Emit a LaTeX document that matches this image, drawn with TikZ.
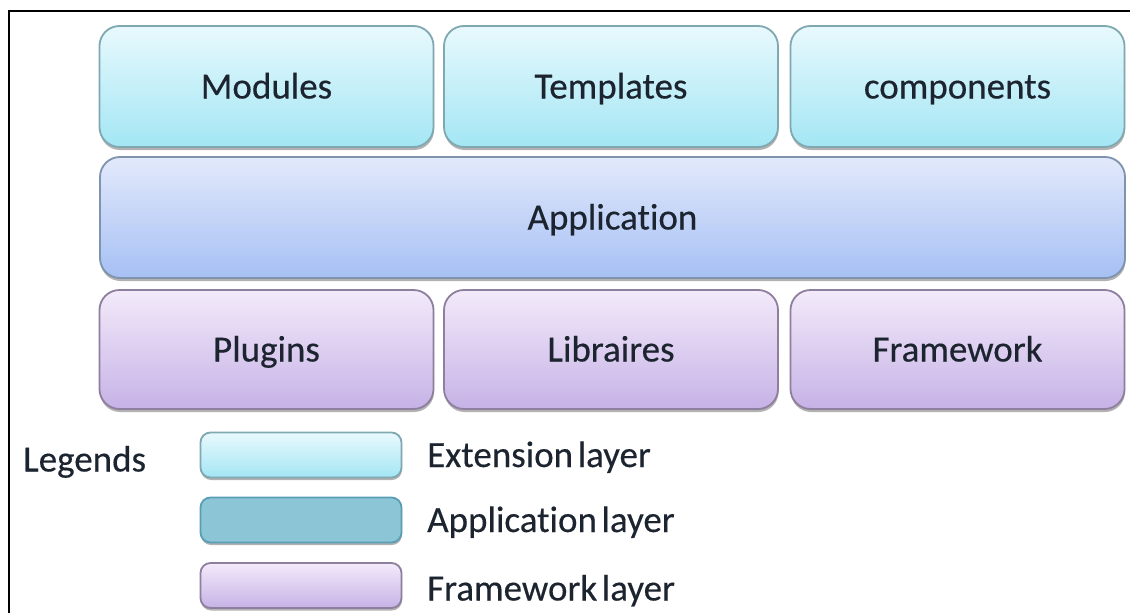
\documentclass[tikz,border=0pt]{standalone}
\usepackage{fontspec}
\setmainfont{Carlito}[FakeBold=0.4, Ligatures=NoCommon]
\newfontfamily\labfont{Carlito}[FakeBold=0.35, Ligatures=NoCommon]
\newfontfamily\legfont{Carlito}[FakeBold=0.3, WordSpace=0.55, Ligatures=NoCommon]
\usetikzlibrary{shadows}
\definecolor{txt}{HTML}{1C2430}
\definecolor{extTop}{HTML}{E8F9FD}
\definecolor{extBot}{HTML}{A3E6F4}
\definecolor{extLine}{HTML}{7FA8B0}
\definecolor{appTop}{HTML}{E2E9FB}
\definecolor{appBot}{HTML}{A6C0F4}
\definecolor{appLine}{HTML}{7F93AE}
\definecolor{fwTop}{HTML}{F3EAFA}
\definecolor{fwBot}{HTML}{C6B2E6}
\definecolor{fwLine}{HTML}{8E7F9E}
\definecolor{legApp}{HTML}{8CC6D6}
\definecolor{legAppLine}{HTML}{5A9EB6}
\tikzset{
  layerbox/.style={rectangle, rounded corners=20pt, line width=1.8pt,
    minimum height=121pt, inner sep=0pt, text=txt,
    text height=24pt, text depth=0pt,
    font=\labfont\fontsize{37}{44}\selectfont,
    drop shadow={shadow xshift=0.5pt, shadow yshift=-3pt, opacity=0.3, fill=black}},
  extbox/.style={layerbox, draw=extLine, top color=extTop, bottom color=extBot, minimum width=334pt},
  appbox/.style={layerbox, draw=appLine, top color=appTop, bottom color=appBot, minimum width=1025pt},
  fwbox/.style={layerbox, draw=fwLine, top color=fwTop, bottom color=fwBot, minimum width=334pt, minimum height=119pt},
  legbox/.style={rectangle, rounded corners=10pt, line width=1.8pt,
    minimum width=201pt, minimum height=45pt, inner sep=0pt,
    drop shadow={shadow xshift=0.5pt, shadow yshift=-2.5pt, opacity=0.3, fill=black}},
  legtext/.style={anchor=west, inner sep=0pt, text=txt, text height=24pt, text depth=0pt,
    font=\legfont\fontsize{37}{44}\selectfont}
}
\begin{document}
\begin{tikzpicture}[x=1pt, y=-1pt]
\useasboundingbox (0,0) rectangle (1130,613);
\fill[white] (0,0) rectangle (1130,613);
% frame
\draw[line width=2.5pt, black] (9,613) -- (9,11) -- (1130,11);
% extension layer
\node[extbox] (modules) at (266.5,86.5) {Modules};
\node[extbox] (templates) at (611,86.5) {Templates};
\node[extbox] (components) at (957.5,86.5) {components};
% application layer
\node[appbox] (application) at (612.5,217.5) {Application};
% framework layer
\node[fwbox] (plugins) at (266.5,349.5) {Plugins};
\node[fwbox] (libraires) at (611,349.5) {Libraires};
\node[fwbox] (framework) at (957.5,349.5) {Framework};
% legend
\node[legtext] (legends) at (23,459.5) {Legends};
\node[legbox, draw=extLine, top color=extTop, bottom color=extBot] (legext) at (301,455) {};
\node[legbox, draw=legAppLine, fill=legApp] (legapp) at (301,520) {};
\node[legbox, draw=fwLine, top color=fwTop, bottom color=fwBot] (legfw) at (301,585.5) {};
\node[legtext] (lext) at (427,455) {Extension layer};
\node[legtext] (lapp) at (427,520) {Application layer};
\node[legtext] (lfw) at (427,588.5) {Framework layer};
\end{tikzpicture}
\end{document}
